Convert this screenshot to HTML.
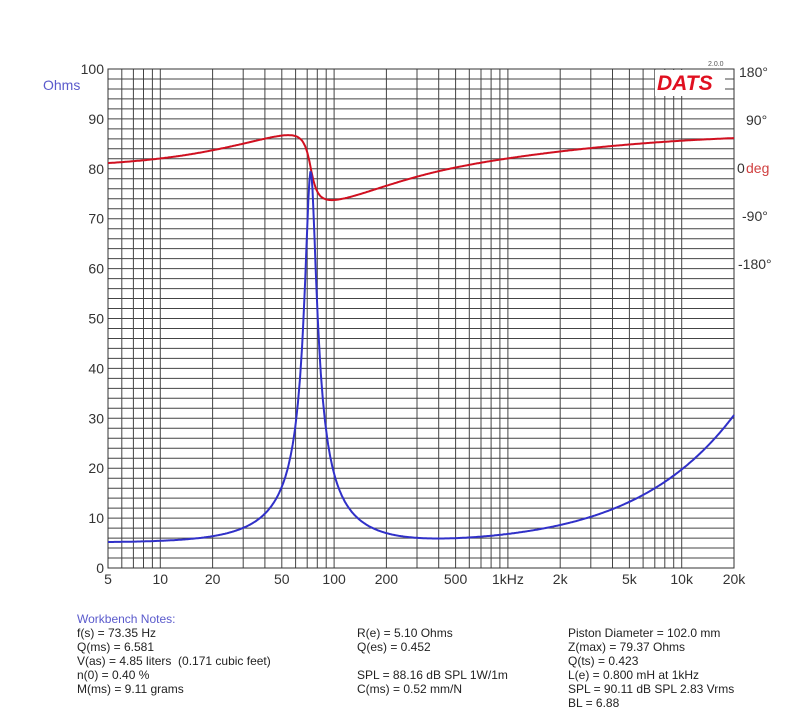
<!DOCTYPE html>
<html><head><meta charset="utf-8"><style>
body{margin:0;background:#fff;width:800px;height:716px;overflow:hidden;font-family:"Liberation Sans",Arial,sans-serif}
svg{position:absolute;left:0;top:0}
.n{position:absolute;font-size:12px;color:#222;white-space:pre;line-height:14px}
</style></head><body>
<svg id="s" width="800" height="716" xmlns="http://www.w3.org/2000/svg" font-family="Liberation Sans, Arial, sans-serif"></svg>
<div class="n" style="left:77px;top:612px;color:#5a5acc">Workbench Notes:</div>
<div class="n" style="left:77px;top:626px">f(s) = 73.35 Hz
Q(ms) = 6.581
V(as) = 4.85 liters  (0.171 cubic feet)
n(0) = 0.40 %
M(ms) = 9.11 grams</div>
<div class="n" style="left:357px;top:626px">R(e) = 5.10 Ohms
Q(es) = 0.452

SPL = 88.16 dB SPL 1W/1m
C(ms) = 0.52 mm/N</div>
<div class="n" style="left:568px;top:626px">Piston Diameter = 102.0 mm
Z(max) = 79.37 Ohms
Q(ts) = 0.423
L(e) = 0.800 mH at 1kHz
SPL = 90.11 dB SPL 2.83 Vrms
BL = 6.88</div>
<script>
var s=document.getElementById('s'),h='';
var X0=108,X1=734,Y0=69,Y1=568;
function fx(f){return X0+(Math.log10(f)-Math.log10(5))/Math.log10(4000)*(X1-X0);}
function fy(v){return Y0+(100-v)*(Y1-Y0)/100;}
for(var v=0;v<=100;v+=2){var y=fy(v).toFixed(1);h+='<line x1="'+X0+'" x2="'+X1+'" y1="'+y+'" y2="'+y+'" stroke="#444" stroke-width="1"/>';}
var fs=[];for(var d=1;d<=10000;d*=10)for(var m=1;m<10;m++){var f=d*m;if(f>=5&&f<=20000)fs.push(f);}fs.push(20000);
fs.forEach(function(f){var x=fx(f).toFixed(1);h+='<line x1="'+x+'" x2="'+x+'" y1="'+Y0+'" y2="'+Y1+'" stroke="#444" stroke-width="1"/>';});
h+='<rect x="'+X0+'" y="'+Y0+'" width="'+(X1-X0)+'" height="'+(Y1-Y0)+'" fill="none" stroke="#333"/>';
for(var v=0;v<=100;v+=10)h+='<text x="104" y="'+(fy(v)+5)+'" text-anchor="end" font-size="14" fill="#333">'+v+'</text>';
h+='<text x="43" y="90" font-size="14" fill="#5a5acc">Ohms</text>';
[[5,'5'],[10,'10'],[20,'20'],[50,'50'],[100,'100'],[200,'200'],[500,'500'],[1000,'1kHz'],[2000,'2k'],[5000,'5k'],[10000,'10k'],[20000,'20k']].forEach(function(a){h+='<text x="'+fx(a[0])+'" y="584" text-anchor="middle" font-size="14" fill="#333">'+a[1]+'</text>';});
var P0=168,PS=48/90;
[[180,'180°',739],[90,'90°',746],[-90,'-90°',742],[-180,'-180°',738]].forEach(function(a){h+='<text x="'+a[2]+'" y="'+(P0-a[0]*PS+5)+'" font-size="14" fill="#333">'+a[1]+'</text>';});
h+='<text x="737" y="173" font-size="14" fill="#333">0</text><text x="746" y="173" font-size="14" fill="#d04040">deg</text>';
h+='<rect x="655" y="70" width="70" height="26" fill="#fff"/><text x="657" y="90" font-size="21" font-weight="bold" font-style="italic" fill="#e01020">DATS</text><text x="708" y="66" font-size="7" fill="#555">2.0.0</text>';
var Re=5.1,Rr=74.27,Q=6.581,F=73.35,K=0.006,n=0.72;
var pb='',pr='';
for(var i=0;i<=600;i++){var f=5*Math.pow(4000,i/600);var w=2*Math.PI*f;
var xq=Q*(f/F-F/f);var den=1+xq*xq;var zr=Re+Rr/den,zi=-Rr*xq/den;
var m=K*Math.pow(w,n),a=n*Math.PI/2;zr+=m*Math.cos(a);zi+=m*Math.sin(a);
var mag=Math.sqrt(zr*zr+zi*zi),ph=Math.atan2(zi,zr)*180/Math.PI;
var x=fx(f).toFixed(1);pb+=(i?'L':'M')+x+' '+fy(mag).toFixed(1);pr+=(i?'L':'M')+x+' '+(P0-ph*PS).toFixed(1);}
h+='<path d="'+pr+'" fill="none" stroke="#d01020" stroke-width="2"/>';
h+='<path d="'+pb+'" fill="none" stroke="#3030c8" stroke-width="2"/>';
s.innerHTML=h;
</script>
</body></html>
